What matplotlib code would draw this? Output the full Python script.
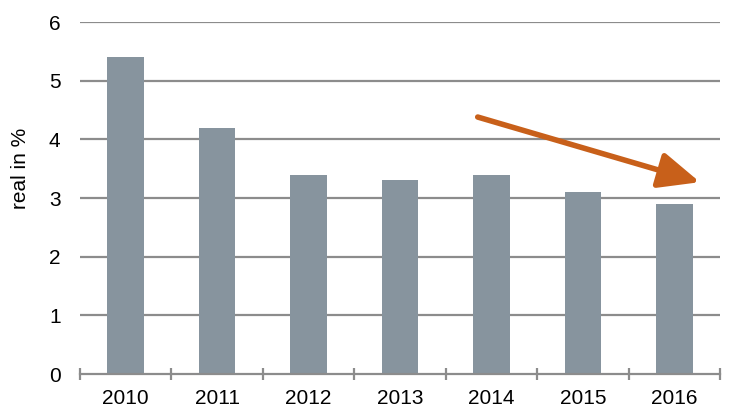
import matplotlib
matplotlib.use("Agg")
import matplotlib.pyplot as plt

years = ["2010", "2011", "2012", "2013", "2014", "2015", "2016"]
values = [5.4, 4.2, 3.4, 3.3, 3.4, 3.1, 2.9]
yticks = [0, 1, 2, 3, 4, 5, 6]

plt.rcParams['font.family'] = ['Liberation Sans', 'DejaVu Sans']

fig = plt.figure(figsize=(7.3, 4.19), dpi=100)
ax = fig.add_axes([80/730, 1 - 374/419, 640/730, 352/419])

x = list(range(len(years)))
ax.set_axisbelow(True)
for v in yticks[1:]:
    ax.axhline(v, color='#8c8c8c', lw=1.6, zorder=0)
ax.bar(x, values, width=0.4, color='#87949e', zorder=2)

ax.set_xlim(-0.5, len(years) - 0.5)
ax.set_ylim(0, 6)
ax.set_yticks(yticks)
ax.set_yticklabels([str(t) for t in yticks], fontsize=15)
ax.set_xticks(x)
ax.set_xticklabels(years, fontsize=15)
ax.tick_params(axis='x', length=0, pad=11)
ax.tick_params(axis='y', length=0, pad=14)
# boundary tick marks
ax.set_xticks([i - 0.5 for i in range(len(years) + 1)], minor=True)
ax.tick_params(axis='x', which='minor', length=8.5, width=1.6, color='#8c8c8c', direction='inout')

for s in ['top', 'right', 'left']:
    ax.spines[s].set_visible(False)
ax.spines['bottom'].set_color('#8c8c8c')
ax.spines['bottom'].set_linewidth(1.6)

ax.set_ylabel("real in %", fontsize=15)
ax.yaxis.set_label_coords(-0.078, 0.585)

# trend arrow
ax.annotate("", xy=(6.28, 3.27), xytext=(3.85, 4.38),
            arrowprops=dict(arrowstyle="-|>,head_length=2.5,head_width=1.1",
                            color='#c8601a', lw=4, shrinkA=0, shrinkB=0),
            zorder=5)

fig.savefig("out.png", dpi=100)
